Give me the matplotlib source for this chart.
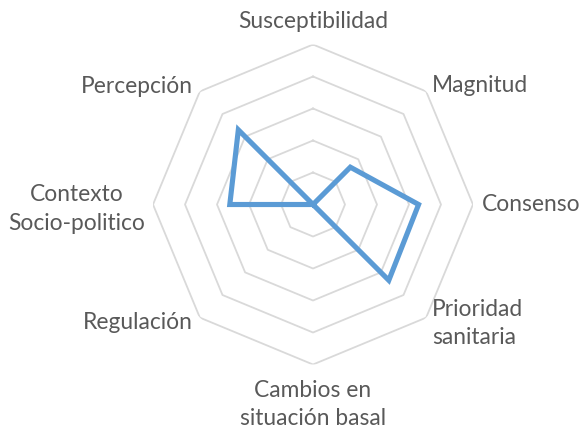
import matplotlib
matplotlib.use("Agg")
import matplotlib.pyplot as plt
import numpy as np

# data
categories = ["Susceptibilidad", "Magnitud", "Consenso", "Prioridad\nsanitaria",
              "Cambios en\nsituación basal", "Regulación", "Contexto\nSocio-politico",
              "Percepción"]
values = [0, 1.65, 3.3, 3.35, 0, 0, 2.6, 3.3]
rings = [1, 2, 3, 4, 5]

# label placement: (dx px, dy px, ha, multialignment)
label_pos = [
    (0, 23, "center", "center"),
    (6, 5.5, "left", "left"),
    (9, 0, "left", "left"),
    (6, -5.5, "left", "left"),
    (0, -40, "center", "center"),
    (-7, -4.5, "right", "right"),
    (-8, -4.5, "right", "center"),
    (-7, 5, "right", "right"),
]

plt.rcParams['font.family'] = ['Lato', 'DejaVu Sans']

fig = plt.figure(figsize=(5.82, 4.30), dpi=100)
ax = fig.add_axes([0.2629, 0.1523, 0.5498, 0.7442], projection="polar")
ax.set_theta_zero_location("N")
ax.set_theta_direction(-1)

n = len(categories)
angles = np.linspace(0, 2 * np.pi, n, endpoint=False)
closed = np.append(angles, angles[0])

# octagon grid
for r in rings:
    ax.plot(closed, [r] * (n + 1), color="#d9d9d9", lw=1.3, zorder=1)

vals = values + values[:1]
ax.plot(closed, vals, color="#5b9bd5", lw=3.7, solid_joinstyle="miter", zorder=3)

for ang, lab, (dx, dy, ha, ma) in zip(angles, categories, label_pos):
    ax.annotate(lab, xy=(ang, rings[-1]), xytext=(dx, dy), textcoords="offset pixels",
                ha=ha, va="center", multialignment=ma, fontsize=16.4,
                color="#595959", linespacing=1.42, annotation_clip=False)

ax.set_ylim(0, rings[-1])
ax.set_xticks([])
ax.set_yticks([])
ax.grid(False)
ax.spines["polar"].set_visible(False)
ax.patch.set_visible(False)

fig.savefig("out.png", dpi=100)
